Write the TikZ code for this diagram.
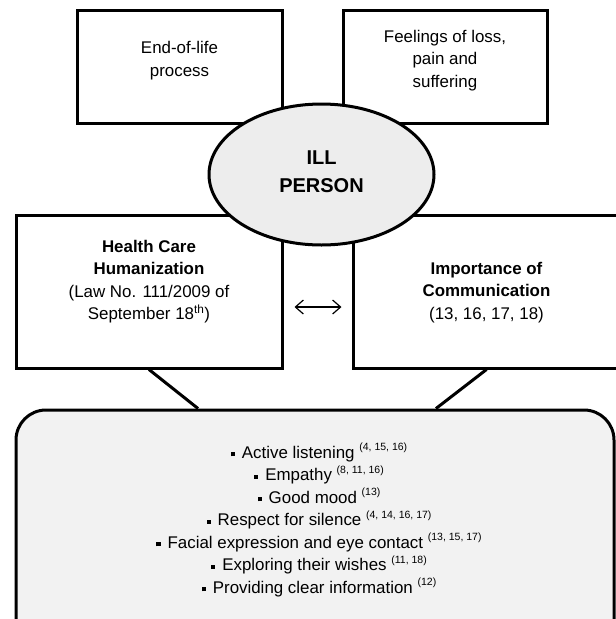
\documentclass[tikz,border=0pt]{standalone}
\usepackage{fontspec}
\setmainfont{Liberation Sans}
\usepackage{xcolor}
\usetikzlibrary{shapes.geometric,arrows.meta}

\newcommand{\sqbul}{\rule[0.12em]{0.24em}{0.24em}\hspace{0.42em}}
\newcommand{\refnums}[1]{\ \raisebox{0.45em}{\fontsize{10.5}{10.5}\selectfont(#1)}}

\begin{document}
\begin{tikzpicture}
  [x=1pt,y=-1pt,line width=3pt,
   every node/.style={font=\fontsize{16.9}{22.5}\selectfont,align=center},
   box/.style={draw,rectangle,inner sep=0pt}]

  \clip (0,0) rectangle (616,619);

  \node[box,minimum width=205,minimum height=113] (life) at (179.5,66.5) {};
  \node (lifetxt) at ([yshift=6pt]life.center) {End-of-life\\process};
  \node[box,minimum width=204,minimum height=113] (loss) at (445,66.5) {};
  \node (losstxt) at ([yshift=6pt]loss.center) {Feelings of loss,\\pain and\\suffering};

  \node[box,minimum width=266,minimum height=153] (hum) at (149,291.5) {};
  \node (humtxt) at ([yshift=10pt]hum.center)
    {\textbf{Health Care}\\\textbf{Humanization}\\(Law No. 111/2009 of\\September 18\textsuperscript{th})};
  \node[box,minimum width=267,minimum height=153] (comm) at (486.5,291.5) {};
  \node (commtxt) at ([yshift=-1pt]comm.center)
    {\textbf{Importance of}\\\textbf{Communication}\\(13, 16, 17, 18)};

  \draw[line width=1.2pt,{Straight Barb[length=8pt,width=14pt]}-{Straight Barb[length=8pt,width=14pt]},
    shorten <=11pt,shorten >=10pt] ([yshift=-15.5pt]hum.east) -- ([yshift=-15.5pt]comm.west);

  \node[draw,rectangle,rounded corners=30pt,fill=black!5,minimum width=598,minimum height=240]
    (listbox) at (315,530) {};
  \coordinate (lefttop) at ([xshift=-117pt]listbox.north);
  \coordinate (righttop) at ([xshift=121pt]listbox.north);

  \foreach \from/\to in {hum.south/lefttop,comm.south/righttop}
    \draw (\from) -- (\to);

  \node (items) at (319,520) {%
    \sqbul Active listening\refnums{4, 15, 16}\\
    \sqbul Empathy\refnums{8, 11, 16}\\
    \sqbul Good mood\refnums{13}\\
    \sqbul Respect for silence\refnums{4, 14, 16, 17}\\
    \sqbul Facial expression and eye contact\refnums{13, 15, 17}\\
    \sqbul Exploring their wishes\refnums{11, 18}\\
    \sqbul Providing clear information\refnums{12}};

  \node[draw,ellipse,fill=black!7,inner sep=0pt,minimum width=225,minimum height=141]
    (ill) at (321.5,174.5) {};
  \node[font=\fontsize{20}{27.5}\selectfont\bfseries] (illtxt) at ([yshift=3pt]ill.center)
    {ILL\\PERSON};
\end{tikzpicture}
\end{document}
